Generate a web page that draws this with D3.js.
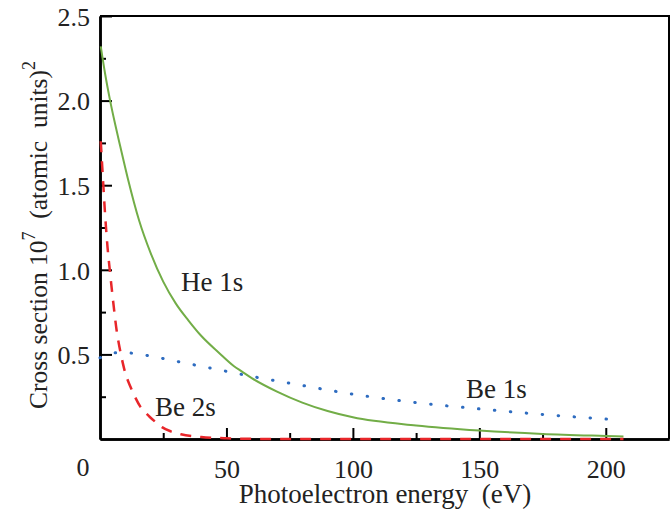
<!DOCTYPE html>
<html>
<head>
<meta charset="utf-8">
<script src="https://cdn.jsdelivr.net/npm/d3@7"></script>
</head>
<body style="margin:0">
<svg id="chart" width="670" height="512" font-family="Liberation Serif"></svg>
<script>
// photoelectron energy (eV) and cross sections
const he1s_energy = [0.3, 2, 4, 6, 8, 11, 15.5, 20, 25, 30, 35, 40, 47, 53, 56, 60, 70, 80, 90, 100, 125, 150, 175, 200, 207];
const he1s_value  = [2.32, 2.16, 2.00, 1.86, 1.73, 1.54, 1.29, 1.10, 0.93, 0.80, 0.70, 0.61, 0.51, 0.43, 0.40, 0.36, 0.28, 0.215, 0.165, 0.128, 0.08, 0.05, 0.03, 0.018, 0.015];

const be1s_energy = [0, 3, 7, 12, 20, 30, 40, 50, 60, 75, 100, 125, 150, 175, 200, 206];
const be1s_value  = [0.48, 0.50, 0.51, 0.508, 0.49, 0.46, 0.43, 0.40, 0.37, 0.33, 0.265, 0.215, 0.178, 0.145, 0.118, 0.112];

const be2s_energy = [0.3, 1, 2, 3, 4, 5, 6.6, 8, 9, 10, 12, 13.8, 16, 18, 19.7, 22, 24.5, 28, 32, 40, 50, 60, 80, 120, 160, 207];
const be2s_value  = [1.76, 1.58, 1.33, 1.13, 0.98, 0.84, 0.64, 0.52, 0.45, 0.39, 0.31, 0.25, 0.19, 0.155, 0.13, 0.10, 0.07, 0.045, 0.028, 0.012, 0.004, 0.001, 0, 0, 0, 0];

const x_major = [50, 100, 150, 200];
const x_minor = [25, 75, 125, 175];
const y_major = [0.5, 1.0, 1.5, 2.0, 2.5];
const y_minor = [0.25, 0.75, 1.25, 1.75, 2.25];

const svg = d3.select("#chart");

//plot box in pixels
const box = {left: 100, right: 669, top: 16, bottom: 439};

const x = d3.scaleLinear().domain([0, 225]).range([box.left, box.right]);
const y = d3.scaleLinear().domain([0, 2.5]).range([box.bottom, box.top]);

//--------frame (top + right)--------
svg.append("path")
    .attr("d", `M${box.left},${box.top}H${box.right}V${box.bottom}`)
    .attr("fill", "none")
    .attr("stroke", "#000")
    .attr("stroke-width", 2);

//--------x axis, ticks pointing inward--------
const gx = svg.append("g").attr("transform", `translate(0,${box.bottom})`);
gx.call(d3.axisBottom(x).tickValues(x_major).tickSizeInner(-11).tickSizeOuter(0).tickPadding(21).tickFormat(d3.format("d")));
gx.append("g").call(d3.axisBottom(x).tickValues(x_minor).tickSizeInner(-6).tickSizeOuter(0).tickFormat(""));

//--------y axis--------
const gy = svg.append("g").attr("transform", `translate(${box.left},0)`);
gy.call(d3.axisLeft(y).tickValues(y_major).tickSizeInner(-12).tickSizeOuter(0).tickPadding(10).tickFormat(d3.format(".1f")));
gy.append("g").call(d3.axisLeft(y).tickValues(y_minor).tickSizeInner(-6).tickSizeOuter(0).tickFormat(""));

svg.selectAll(".domain").attr("stroke", "#000").attr("stroke-width", 2.5);
svg.selectAll(".tick line").attr("stroke", "#000").attr("stroke-width", 2);
svg.selectAll(".tick text").attr("font-size", 26);
gy.selectAll(".tick text").attr("dy", "0.36em");

//origin label
svg.append("text")
    .attr("x", 83).attr("y", 476)
    .attr("text-anchor", "middle")
    .attr("font-size", 26)
    .text("0");

//--------axis titles--------
svg.append("text")
    .attr("x", 385).attr("y", 503)
    .attr("text-anchor", "middle")
    .attr("font-size", 27)
    .text("Photoelectron energy\u00a0\u00a0(eV)");

const ytitle = svg.append("text")
    .attr("transform", "translate(47,235) rotate(-90)")
    .attr("text-anchor", "middle")
    .attr("font-size", 25.5);
ytitle.append("tspan").text("Cross section 10");
ytitle.append("tspan").attr("dy", -12).attr("font-size", 18).text("7");
ytitle.append("tspan").attr("dy", 12).text("\u00a0\u00a0(atomic\u00a0\u00a0units)");
ytitle.append("tspan").attr("dy", -12).attr("font-size", 18).text("2");

//--------curves--------
const line = d3.line()
    .x(d => x(d[0]))
    .y(d => y(d[1]))
    .curve(d3.curveMonotoneX);

svg.append("path")
    .datum(d3.zip(he1s_energy, he1s_value))
    .attr("d", line)
    .attr("fill", "none")
    .attr("stroke", "#72ad47")
    .attr("stroke-width", 2);

svg.append("path")
    .datum(d3.zip(be1s_energy, be1s_value))
    .attr("d", line)
    .attr("fill", "none")
    .attr("stroke", "#2e6cc0")
    .attr("stroke-width", 3)
    .attr("stroke-linecap", "round")
    .attr("stroke-dasharray", "0.5,15.5");

svg.append("path")
    .datum(d3.zip(be2s_energy, be2s_value))
    .attr("d", line)
    .attr("fill", "none")
    .attr("stroke", "#e8262a")
    .attr("stroke-width", 2.5)
    .attr("stroke-dasharray", "11,9");

//--------curve labels--------
const curve_labels = [
    {text: "He 1s", x: 181, y: 291},
    {text: "Be 2s", x: 155, y: 416},
    {text: "Be 1s", x: 466, y: 398}
];
svg.selectAll(".clabel")
    .data(curve_labels)
    .join("text")
    .attr("class", "clabel")
    .attr("x", d => d.x)
    .attr("y", d => d.y)
    .attr("font-size", 27)
    .text(d => d.text);

//every text in a Times-like serif
svg.selectAll("g").attr("font-family", "Liberation Serif");
svg.selectAll("text")
    .attr("font-family", "Liberation Serif")
    .style("font-family", '"Liberation Serif"')
    .attr("fill", "#222");
</script>
</body>
</html>
